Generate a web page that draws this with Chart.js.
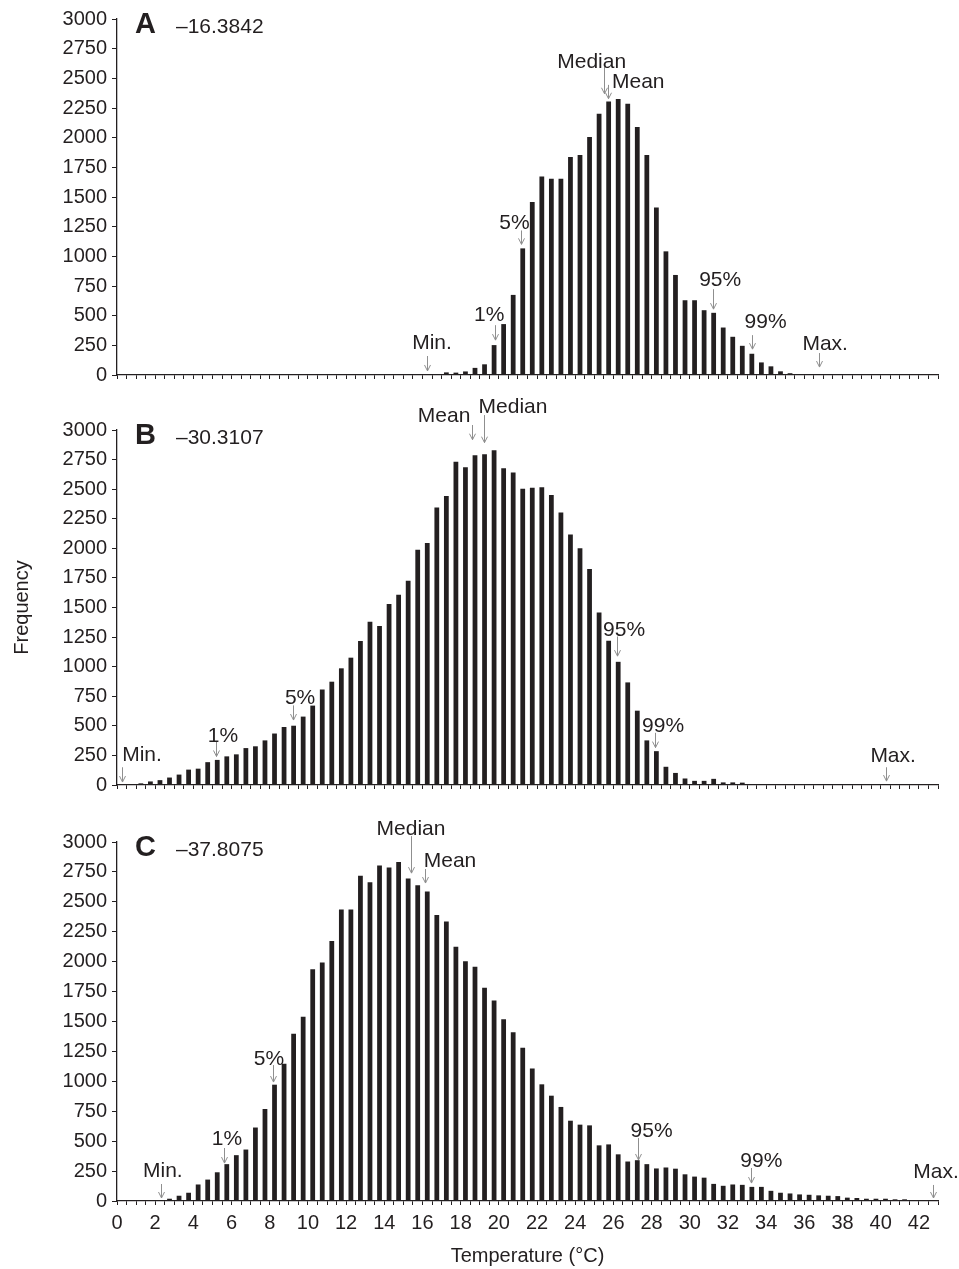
<!DOCTYPE html>
<html><head><meta charset="utf-8">
<script src="https://cdn.jsdelivr.net/npm/chart.js@4.4.1/dist/chart.umd.min.js"></script>
<style>
html,body{margin:0;padding:0;background:#fff;width:959px;height:1269px;overflow:hidden;}
canvas{position:absolute;left:0;display:block;}
</style></head><body>
<canvas id="ca" width="959" height="392" style="top:0px;width:959px;height:392px"></canvas>
<canvas id="cb" width="959" height="410" style="top:392px;width:959px;height:410px"></canvas>
<canvas id="cc" width="959" height="467" style="top:802px;width:959px;height:467px"></canvas>
<script>
// ---------- data ----------
const binCenters = [0.25,0.75,1.25,1.75,2.25,2.75,3.25,3.75,4.25,4.75,5.25,5.75,6.25,6.75,7.25,7.75,8.25,8.75,9.25,9.75,10.25,10.75,11.25,11.75,12.25,12.75,13.25,13.75,14.25,14.75,15.25,15.75,16.25,16.75,17.25,17.75,18.25,18.75,19.25,19.75,20.25,20.75,21.25,21.75,22.25,22.75,23.25,23.75,24.25,24.75,25.25,25.75,26.25,26.75,27.25,27.75,28.25,28.75,29.25,29.75,30.25,30.75,31.25,31.75,32.25,32.75,33.25,33.75,34.25,34.75,35.25,35.75,36.25,36.75,37.25,37.75,38.25,38.75,39.25,39.75,40.25,40.75,41.25,41.75,42.25,42.75];

const freqA = [0,0,0,0,0,0,0,0,0,0,0,0,0,0,0,0,0,0,0,0,0,0,0,0,0,0,0,0,0,0,0,0,
  4,8,22,20,30,60,90,252,429,675,1067,1457,1672,1653,1653,1837,1854,2005,2202,2305,2325,2286,2090,1854,1412,1042,843,630,630,546,524,400,322,246,179,106,73,31,15,6,6,3,
  0,0,0,0,0,0,0,0,0,0,0,0];

const freqB = [3,4,14,30,41,63,88,130,138,193,212,242,259,312,327,377,435,490,501,578,671,807,873,986,1076,1217,1379,1344,1529,1608,1726,1988,2046,2346,2443,2732,2685,2787,2795,2828,2676,2640,2503,2512,2517,2451,2302,2117,2001,1825,1457,1220,1041,867,628,377,286,154,102,55,35,35,52,22,22,20,8,6,5,4,3,3,2,2,2,2,1,1,1,1,1,0,0,0,0,0];

const freqC = [0,0,0,0,8,19,44,69,138,179,240,308,383,430,614,769,972,1147,1397,1540,1936,1992,2172,2436,2436,2719,2664,2803,2786,2833,2694,2639,2586,2389,2336,2125,2003,1958,1783,1675,1519,1411,1280,1108,975,880,786,671,638,632,465,473,390,330,341,308,272,280,270,223,204,195,143,127,138,135,118,118,85,69,63,55,52,47,44,41,28,25,19,19,19,14,14,8,8,8];

const xLabelValues = [0,2,4,6,8,10,12,14,16,18,20,22,24,26,28,30,32,34,36,38,40,42];
const yStep = 250;
const yMax = 3000;
const xMax = 43;

const panelLetters = ['A','B','C'];
const panelNumbers = ['\u201316.3842','\u201330.3107','\u201337.8075'];

// annotation arrows: x = arrow position (°C), y0/y1 = arrow top/tip (frequency), tx/ty = text centre/baseline
const annotA = [
  {label:'Min.',   x:16.25, y0:160,  y1:34,   tx:16.5,  ty:218},
  {label:'1%',     x:19.82, y0:420,  y1:294,  tx:19.49, ty:454},
  {label:'5%',     x:21.18, y0:1218, y1:1101, tx:20.82, ty:1227},
  {label:'Median', x:25.51, y0:2597, y1:2370, tx:24.86, ty:2588},
  {label:'Mean',   x:25.72, y0:2445, y1:2328, tx:27.3,  ty:2420},
  {label:'95%',    x:31.2,  y0:723,  y1:555,  tx:31.59, ty:748},
  {label:'99%',    x:33.24, y0:336,  y1:218,  tx:33.97, ty:395},
  {label:'Max.',   x:36.77, y0:185,  y1:67,   tx:37.09, ty:210}
];
const annotB = [
  {label:'Min.',   x:0.26,  y0:150,  y1:25,   tx:1.31,  ty:200},
  {label:'1%',     x:5.18,  y0:366,  y1:241,  tx:5.55,  ty:366},
  {label:'5%',     x:9.23,  y0:673,  y1:549,  tx:9.59,  ty:682},
  {label:'Mean',   x:18.6,  y0:3042, y1:2918, tx:17.13, ty:3067},
  {label:'Median', x:19.22, y0:3126, y1:2893, tx:20.74, ty:3142},
  {label:'95%',    x:26.17, y0:1255, y1:1089, tx:26.56, ty:1263},
  {label:'99%',    x:28.19, y0:441,  y1:316,  tx:28.6,  ty:449},
  {label:'Max.',   x:40.29, y0:150,  y1:33,   tx:40.65, ty:191}
];
const annotC = [
  {label:'Min.',   x:2.3,   y0:142,  y1:25,   tx:2.4,   ty:200},
  {label:'1%',     x:5.6,   y0:443,  y1:317,  tx:5.76,  ty:468},
  {label:'5%',     x:8.16,  y0:1136, y1:994,  tx:7.96,  ty:1136},
  {label:'Median', x:15.38, y0:3049, y1:2740, tx:15.4,  ty:3058},
  {label:'Mean',   x:16.15, y0:2774, y1:2657, tx:17.44, ty:2790},
  {label:'95%',    x:27.3,  y0:526,  y1:343,  tx:28.0,  ty:535},
  {label:'99%',    x:33.2,  y0:276,  y1:150,  tx:33.75, ty:284},
  {label:'Max.',   x:42.74, y0:134,  y1:25,   tx:42.9,  ty:192}
];

// ---------- drawing ----------
const FAMILY = '"Liberation Sans", Arial, Helvetica, sans-serif';
const INK = '#231f20';

const annotPlugin = {
  id: 'annot',
  afterDatasetsDraw(chart, args, opts) {
    const ctx = chart.ctx, xs = chart.scales.x, ys = chart.scales.y;
    ctx.save();
    for (const a of opts.items) {
      const ax = Math.round(xs.getPixelForValue(a.x)) + 0.5;
      const y0 = ys.getPixelForValue(a.y0), y1 = ys.getPixelForValue(a.y1);
      ctx.strokeStyle = '#8f8f8f';
      ctx.lineWidth = 1;
      ctx.beginPath();
      ctx.moveTo(ax, y0); ctx.lineTo(ax, y1);
      ctx.moveTo(ax - 3, y1 - 6); ctx.lineTo(ax, y1); ctx.lineTo(ax + 3, y1 - 6);
      ctx.stroke();
      ctx.fillStyle = INK;
      ctx.font = '21px ' + FAMILY;
      ctx.textAlign = 'center';
      ctx.textBaseline = 'alphabetic';
      ctx.fillText(a.label, xs.getPixelForValue(a.tx), ys.getPixelForValue(a.ty));
    }
    const top = ys.getPixelForValue(yMax);
    ctx.textAlign = 'left';
    ctx.font = 'bold 29px ' + FAMILY;
    ctx.fillText(opts.letter, 135, top + 14);
    ctx.font = '21px ' + FAMILY;
    ctx.fillText(opts.number, 176, top + 14);
    ctx.restore();
  }
};

function makeChart(id, values, annots, idx, cfg) {
  return new Chart(document.getElementById(id), {
    type: 'bar',
    data: {
      datasets: [{
        data: binCenters.map((c, i) => ({x: c, y: values[i]})),
        backgroundColor: INK,
        borderWidth: 0,
        barPercentage: 0.5,
        categoryPercentage: 1.0
      }]
    },
    options: {
      responsive: false,
      animation: false,
      devicePixelRatio: 1,
      layout: {padding: {top: cfg.padTop, right: 21, left: 0, bottom: 0}},
      plugins: {
        legend: {display: false},
        tooltip: {enabled: false},
        annot: {items: annots, letter: panelLetters[idx], number: panelNumbers[idx]}
      },
      scales: {
        x: {
          type: 'linear', min: 0, max: xMax, offset: false,
          ticks: {
            stepSize: 0.5, autoSkip: false, maxRotation: 0, minRotation: 0,
            padding: 6, color: INK, font: {size: 20, family: FAMILY},
            callback: v => (cfg.showX && xLabelValues.includes(v)) ? String(v) : ''
          },
          grid: {display: true, drawOnChartArea: false, drawTicks: true, tickLength: 4, color: INK, lineWidth: 1, offset: false},
          border: {display: true, color: INK, width: 1.3},
          title: {display: !!cfg.xTitle, text: 'Temperature (\u00b0C)', color: INK, font: {size: 20, family: FAMILY}, padding: {top: 0, bottom: 1}},
          afterFit: s => { s.height = cfg.xHeight; }
        },
        y: {
          min: 0, max: yMax,
          ticks: {stepSize: yStep, autoSkip: false, padding: 5, color: INK, font: {size: 20, family: FAMILY},
                  callback: v => String(v)},
          grid: {display: true, drawOnChartArea: false, drawTicks: true, tickLength: 5, color: INK, lineWidth: 1},
          border: {display: true, color: INK, width: 1.3},
          title: {display: !!cfg.yTitle, text: 'Frequency', color: INK, font: {size: 20, family: FAMILY}, padding: {top: 10, bottom: 0}},
          afterFit: s => { s.width = 117; }
        }
      }
    },
    plugins: [annotPlugin]
  });
}

makeChart('ca', freqA, annotA, 0, {padTop: 19, xHeight: 16, showX: false});
makeChart('cb', freqB, annotB, 1, {padTop: 38, xHeight: 11, showX: false, yTitle: true});
makeChart('cc', freqC, annotC, 2, {padTop: 40, xHeight: 68, showX: true, xTitle: true});
</script>
</body></html>
